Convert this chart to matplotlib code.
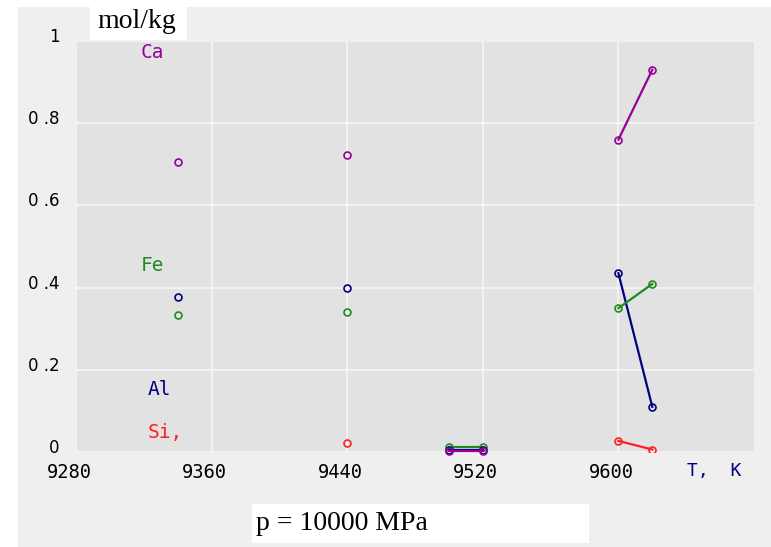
import numpy as np
import matplotlib.pyplot as plt
import matplotlib.transforms as mtransforms
from matplotlib.patches import Rectangle

# temperatures (K) and compositions (mol/kg)
t_single1 = [9340]
t_single2 = [9440]
t_low = [9500, 9520]
t_high = [9600, 9620]

ca_1 = [0.705]
al_1 = [0.377]
fe_1 = [0.334]

ca_2 = [0.722]
al_2 = [0.398]
fe_2 = [0.340]
si_2 = [0.021]

fe_low = [0.012, 0.012]
al_low = [0.006, 0.006]
ca_low = [0.002, 0.002]

ca_high = [0.760, 0.930]
al_high = [0.435, 0.110]
fe_high = [0.350, 0.409]
si_high = [0.027, 0.006]

xticks = [9280, 9360, 9440, 9520, 9600]
yticks = [0, 0.2, 0.4, 0.6, 0.8, 1]
ytick_labels = ['0', '0 .2', '0 .4', '0 .6', '0 .8', '1']

colors = {'Ca': '#990099', 'Fe': '#208a20', 'Al': '#000080', 'Si': '#ff2020'}

W, H = 771, 547
fig = plt.figure(figsize=(W / 100, H / 100), dpi=100)
fig.patch.set_facecolor('white')

def px(x0, y0, x1, y1):
    return [x0 / W, 1 - y1 / H, (x1 - x0) / W, (y1 - y0) / H]

# light gray panel behind everything
bg = fig.add_axes(px(18, 7, 771, 547))
bg.set_facecolor('#efefef')
bg.set_xticks([]); bg.set_yticks([])
for s in bg.spines.values():
    s.set_visible(False)

ax = fig.add_axes(px(76, 41, 754, 452))
ax.set_facecolor('#e2e2e2')
ax.set_xlim(9280, 9680)
ax.set_ylim(0, 1)
ax.set_xticks(xticks)
ax.set_xticklabels([str(v) for v in xticks], family='DejaVu Sans Mono', fontsize=13.5)
ax.set_yticks(yticks)
ax.set_yticklabels(ytick_labels, family='DejaVu Sans', fontsize=12)
ax.tick_params(axis='y', length=0, pad=12)
ax.tick_params(axis='x', length=0, pad=8)
# x labels sit a little left of their grid lines in the original
shift = mtransforms.ScaledTranslation(-7 / 100, 0, fig.dpi_scale_trans)
for t in ax.get_xticklabels():
    t.set_transform(t.get_transform() + shift)
shift_y = mtransforms.ScaledTranslation(0, 6 / 100, fig.dpi_scale_trans)
for t in ax.get_yticklabels():
    t.set_transform(t.get_transform() + shift_y)
ax.grid(True, color='#f6f6f6', linewidth=1.2)
ax.set_axisbelow(True)
for s in ax.spines.values():
    s.set_visible(False)

mk = dict(marker='o', markersize=5, markerfacecolor='none', markeredgewidth=1.2, linewidth=1.6)

ax.plot(t_single1, ca_1, color=colors['Ca'], **mk)
ax.plot(t_single1, al_1, color=colors['Al'], **mk)
ax.plot(t_single1, fe_1, color=colors['Fe'], **mk)

ax.plot(t_single2, ca_2, color=colors['Ca'], **mk)
ax.plot(t_single2, al_2, color=colors['Al'], **mk)
ax.plot(t_single2, fe_2, color=colors['Fe'], **mk)
ax.plot(t_single2, si_2, color=colors['Si'], **mk)

ax.plot(t_low, fe_low, color=colors['Fe'], clip_on=False, **mk)
ax.plot(t_low, al_low, color=colors['Al'], clip_on=False, **mk)
ax.plot(t_low, ca_low, color=colors['Ca'], clip_on=False, **mk)

ax.plot(t_high, ca_high, color=colors['Ca'], **mk)
ax.plot(t_high, al_high, color=colors['Al'], **mk)
ax.plot(t_high, fe_high, color=colors['Fe'], **mk)
ax.plot(t_high, si_high, color=colors['Si'], **mk)

lab = dict(family='DejaVu Sans Mono', fontsize=14, ha='left', va='center')
ax.text(9318, 0.973, 'Ca', color=colors['Ca'], **lab)
ax.text(9318, 0.453, 'Fe', color=colors['Fe'], **lab)
ax.text(9322, 0.153, 'Al', color=colors['Al'], **lab)
ax.text(9322, 0.048, 'Si,', color=colors['Si'], **lab)

fig.text(687 / W, 1 - 471 / H, 'T,  K', color='#000080', family='DejaVu Sans Mono',
         fontsize=13, ha='left', va='center')

# white label boxes
fig.patches.append(Rectangle((90 / W, 1 - 40 / H), 97 / W, 33 / H, transform=fig.transFigure,
                             facecolor='white', edgecolor='none', zorder=5))
fig.text(97 / W, 1 - 21 / H, 'mol/kg', family='Liberation Serif', fontsize=20,
         ha='left', va='center', zorder=6)

fig.patches.append(Rectangle((252 / W, 1 - 543 / H), 337 / W, 39 / H, transform=fig.transFigure,
                             facecolor='white', edgecolor='none', zorder=5))
fig.text(256 / W, 1 - 523 / H, 'p = 10000 MPa', family='Liberation Serif', fontsize=20,
         ha='left', va='center', zorder=6)

fig.savefig('out.png', dpi=100)
